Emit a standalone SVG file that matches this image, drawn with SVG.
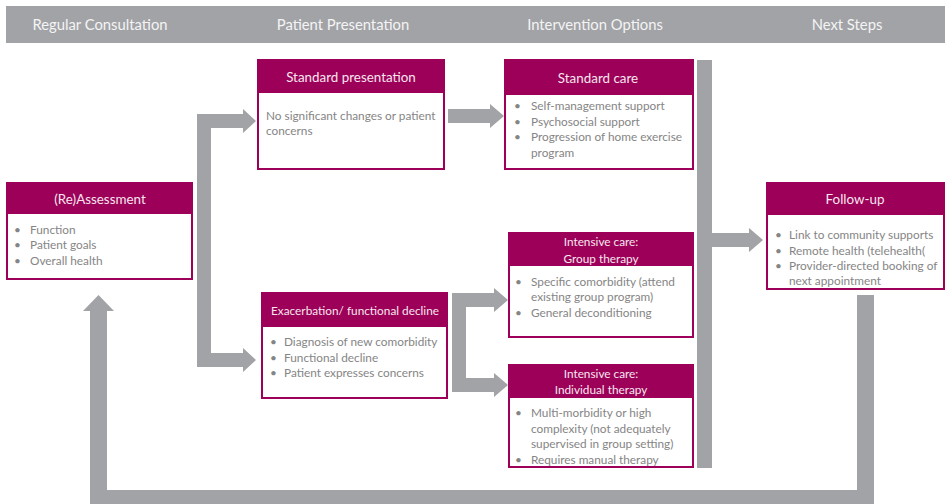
<svg xmlns="http://www.w3.org/2000/svg" width="945" height="504" viewBox="0 0 945 504">
  <style>
    .band { fill: #a2a3a7; }
    .band-label { font-family: Lato, "Open Sans", sans-serif; font-size: 14.8px; fill: #f4f4f4; text-anchor: middle; }
    .box { fill: #ffffff; stroke: #9c0058; stroke-width: 2; }
    .head { fill: #9c0058; }
    .title { font-family: Lato, "Open Sans", sans-serif; font-size: 13.4px; fill: #f7e6ef; text-anchor: middle; }
    .body { font-family: Lato, "Open Sans", sans-serif; font-size: 11.8px; fill: #858585; }
    .flow { fill: #a2a3a7; }
  </style>

  <!-- column header band -->
  <g id="header">
    <rect class="band" x="6" y="6" width="939" height="37"/>
    <text class="band-label" x="100" y="29.5">Regular Consultation</text>
    <text class="band-label" x="343" y="29.5">Patient Presentation</text>
    <text class="band-label" x="595" y="29.5">Intervention Options</text>
    <text class="band-label" x="847" y="29.5">Next Steps</text>
  </g>

  <!-- connectors -->
  <g id="connectors">
    <path class="flow" d="M197,114 L243,114 L243,109 L256,121 L243,133 L243,128 L211,128 L211,353 L243,353 L243,348 L256,360 L243,372 L243,367 L197,367 Z"/>
    <path class="flow" d="M448,109 L490,109 L490,104 L504,116 L490,128 L490,123 L448,123 Z"/>
    <path class="flow" d="M452,293 L494,293 L494,288 L508,300 L494,312 L494,307 L466,307 L466,378 L494,378 L494,373 L508,385 L494,397 L494,392 L452,392 Z"/>
    <path class="flow" d="M697,60 L712,60 L712,233 L749,233 L749,228 L763,240 L749,252 L749,247 L712,247 L712,468 L697,468 Z"/>
    <path class="flow" d="M857,295 L874,295 L874,504 L90,504 L90,311 L83,311 L98.5,295 L114,311 L107,311 L107,490 L857,490 Z"/>
  </g>

  <!-- (Re)Assessment -->
  <g id="assessment">
    <rect class="box" x="7" y="183" width="185" height="96"/>
    <rect class="head" x="7" y="183" width="185" height="31"/>
    <text class="title" x="100" y="204">(Re)Assessment</text>
    <text class="body"><tspan x="14" y="234">•</tspan><tspan x="30" y="234">Function</tspan></text>
    <text class="body"><tspan x="14" y="249">•</tspan><tspan x="30" y="249">Patient goals</tspan></text>
    <text class="body"><tspan x="14" y="265">•</tspan><tspan x="30" y="265">Overall health</tspan></text>
  </g>

  <!-- Standard presentation -->
  <g id="standard-presentation">
    <rect class="box" x="258" y="60" width="186" height="109"/>
    <rect class="head" x="258" y="60" width="186" height="33"/>
    <text class="title" x="351" y="81.5">Standard presentation</text>
    <text class="body" x="266" y="120">No significant changes or patient</text>
    <text class="body" x="266" y="135">concerns</text>
  </g>

  <!-- Standard care -->
  <g id="standard-care">
    <rect class="box" x="505" y="60" width="188" height="109"/>
    <rect class="head" x="505" y="60" width="188" height="35"/>
    <text class="title" x="598" y="82.5">Standard care</text>
    <text class="body"><tspan x="514" y="110">•</tspan><tspan x="531" y="110">Self-management support</tspan></text>
    <text class="body"><tspan x="514" y="126">•</tspan><tspan x="531" y="126">Psychosocial support</tspan></text>
    <text class="body"><tspan x="514" y="141">•</tspan><tspan x="531" y="141">Progression of home exercise</tspan></text>
    <text class="body" x="531" y="157">program</text>
  </g>

  <!-- Exacerbation / functional decline -->
  <g id="exacerbation">
    <rect class="box" x="262" y="293" width="185" height="105"/>
    <rect class="head" x="262" y="293" width="185" height="34"/>
    <text class="title" x="355" y="314.5" style="font-size:11.8px">Exacerbation/ functional decline</text>
    <text class="body"><tspan x="270" y="346">•</tspan><tspan x="284" y="346">Diagnosis of new comorbidity</tspan></text>
    <text class="body"><tspan x="270" y="362">•</tspan><tspan x="284" y="362">Functional decline</tspan></text>
    <text class="body"><tspan x="270" y="377">•</tspan><tspan x="284" y="377">Patient expresses concerns</tspan></text>
  </g>

  <!-- Intensive care: group -->
  <g id="intensive-group">
    <rect class="box" x="509" y="233" width="184" height="104"/>
    <rect class="head" x="509" y="233" width="184" height="33"/>
    <text class="title" x="601" y="246" style="font-size:11.8px">Intensive care:</text>
    <text class="title" x="601" y="263" style="font-size:11.8px">Group therapy</text>
    <text class="body"><tspan x="515" y="286">•</tspan><tspan x="531" y="286">Specific comorbidity (attend</tspan></text>
    <text class="body" x="531" y="301">existing group program)</text>
    <text class="body"><tspan x="515" y="317">•</tspan><tspan x="531" y="317">General deconditioning</tspan></text>
  </g>

  <!-- Intensive care: individual -->
  <g id="intensive-individual">
    <rect class="box" x="509" y="365" width="184" height="102"/>
    <rect class="head" x="509" y="365" width="184" height="33"/>
    <text class="title" x="601" y="378" style="font-size:11.8px">Intensive care:</text>
    <text class="title" x="601" y="394" style="font-size:11.8px">Individual therapy</text>
    <text class="body"><tspan x="515" y="417">•</tspan><tspan x="531" y="417">Multi-morbidity or high</tspan></text>
    <text class="body" x="531" y="433">complexity (not adequately</text>
    <text class="body" x="531" y="448">supervised in group setting)</text>
    <text class="body"><tspan x="515" y="464">•</tspan><tspan x="531" y="464">Requires manual therapy</tspan></text>
  </g>

  <!-- Follow-up -->
  <g id="follow-up">
    <rect class="box" x="767" y="183" width="177" height="106"/>
    <rect class="head" x="767" y="183" width="177" height="32"/>
    <text class="title" x="855" y="204">Follow-up</text>
    <text class="body"><tspan x="775" y="239">•</tspan><tspan x="789" y="239">Link to community supports</tspan></text>
    <text class="body"><tspan x="775" y="255">•</tspan><tspan x="789" y="255">Remote health (telehealth(</tspan></text>
    <text class="body"><tspan x="775" y="270">•</tspan><tspan x="789" y="270">Provider-directed booking of</tspan></text>
    <text class="body" x="789" y="285">next appointment</text>
  </g>
</svg>
